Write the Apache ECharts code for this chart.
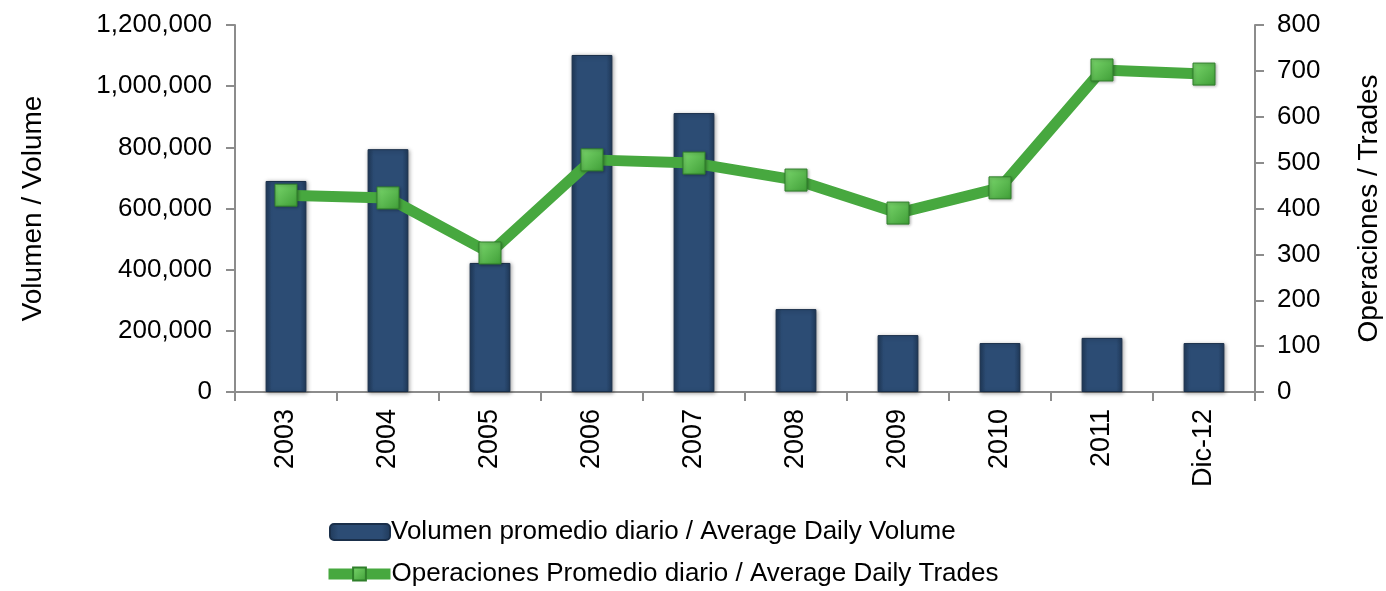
<!DOCTYPE html>
<html>
<head>
<meta charset="utf-8">
<script src="https://cdn.jsdelivr.net/npm/echarts@6/dist/echarts.min.js"></script>
<style>
  html, body { margin: 0; padding: 0; background: #fff; }
  #chart { width: 1386px; height: 591px; }
</style>
</head>
<body>
<div id="chart"></div>
<script>
// datos
var years = ['2003', '2004', '2005', '2006', '2007', '2008', '2009', '2010', '2011', 'Dic-12'];
var volumen = [690000, 794000, 422000, 1102000, 912000, 271000, 186000, 160000, 177000, 160000];
var operaciones = [429, 423, 303, 506, 499, 462, 390, 445, 702, 693];

var volName = 'Volumen promedio diario / Average Daily Volume';
var opName = 'Operaciones Promedio diario / Average Daily Trades';

var legendText = { fontSize: 26, color: '#000', padding: [0, 0, 0, -4] };

var myChart = echarts.init(document.getElementById('chart'));
var option = {
    backgroundColor: '#fff',
    textStyle: { fontFamily: 'Liberation Sans, Arial, sans-serif', color: '#000' },
    animation: false,
    grid: {
        left: 235,
        right: 131,
        top: 25,
        bottom: 199,
        outerBoundsMode: 'none'
    },
    legend: [{
        left: 324,
        top: 514,
        itemWidth: 60,
        itemHeight: 16,
        textStyle: legendText,
        data: [{ name: volName }]
    }, {
        left: 318,
        top: 556,
        itemWidth: 62,
        itemHeight: 16,
        textStyle: legendText,
        data: [{ name: opName, lineStyle: { width: 11, color: '#47a83f' } }]
    }],
    xAxis: [{
        type: 'category',
        data: years,
        axisLine: { lineStyle: { color: '#8c8c8c', width: 2 } },
        axisTick: { show: true, length: 9, lineStyle: { color: '#8c8c8c', width: 2 } },
        axisLabel: { rotate: 90, fontSize: 27, color: '#000', margin: 17 }
    }],
    yAxis: [{
        type: 'value',
        min: 0,
        max: 1200000,
        interval: 200000,
        name: 'Volumen / Volume',
        nameLocation: 'middle',
        nameGap: 188,
        nameTextStyle: { fontSize: 28, color: '#000' },
        axisLine: { show: true, lineStyle: { color: '#8c8c8c', width: 2 } },
        axisTick: { show: true, length: 9, lineStyle: { color: '#8c8c8c', width: 2 } },
        axisLabel: {
            fontSize: 26, color: '#000', margin: 23,
            formatter: function (v) { return v.toLocaleString('en-US'); }
        },
        splitLine: { show: false }
    }, {
        type: 'value',
        min: 0,
        max: 800,
        interval: 100,
        name: 'Operaciones / Trades',
        nameLocation: 'middle',
        nameGap: 100,
        nameRotate: 90,
        nameTextStyle: { fontSize: 28, color: '#000' },
        axisLine: { show: true, lineStyle: { color: '#8c8c8c', width: 2 } },
        axisTick: { show: true, length: 9, lineStyle: { color: '#8c8c8c', width: 2 } },
        axisLabel: { fontSize: 26, color: '#000', margin: 22 },
        splitLine: { show: false }
    }],
    series: [{
        name: volName,
        type: 'bar',
        yAxisIndex: 0,
        barWidth: '40%',
        itemStyle: {
            color: new echarts.graphic.LinearGradient(0, 0, 1, 0, [
                { offset: 0, color: '#203a5a' },
                { offset: 0.15, color: '#2c4c74' },
                { offset: 0.85, color: '#2c4c74' },
                { offset: 1, color: '#203a5a' }
            ]),
            borderColor: '#1a2f4a',
            borderWidth: 1,
            shadowColor: 'rgba(0,0,0,0.35)',
            shadowBlur: 4,
            shadowOffsetX: 1,
            shadowOffsetY: 1
        },
        data: volumen
    }, {
        name: opName,
        type: 'line',
        yAxisIndex: 1,
        symbol: 'rect',
        symbolSize: 22,
        lineStyle: { color: '#47a83f', width: 11 },
        itemStyle: {
            color: new echarts.graphic.LinearGradient(0, 0, 1, 1, [
                { offset: 0, color: '#7ad66c' },
                { offset: 1, color: '#3f9e37' }
            ]),
            borderColor: '#2f7f2a',
            borderWidth: 1,
            shadowColor: 'rgba(0,0,0,0.3)',
            shadowBlur: 3,
            shadowOffsetX: 1,
            shadowOffsetY: 1
        },
        data: operaciones
    }]
};
myChart.setOption(option);
</script>
</body>
</html>
